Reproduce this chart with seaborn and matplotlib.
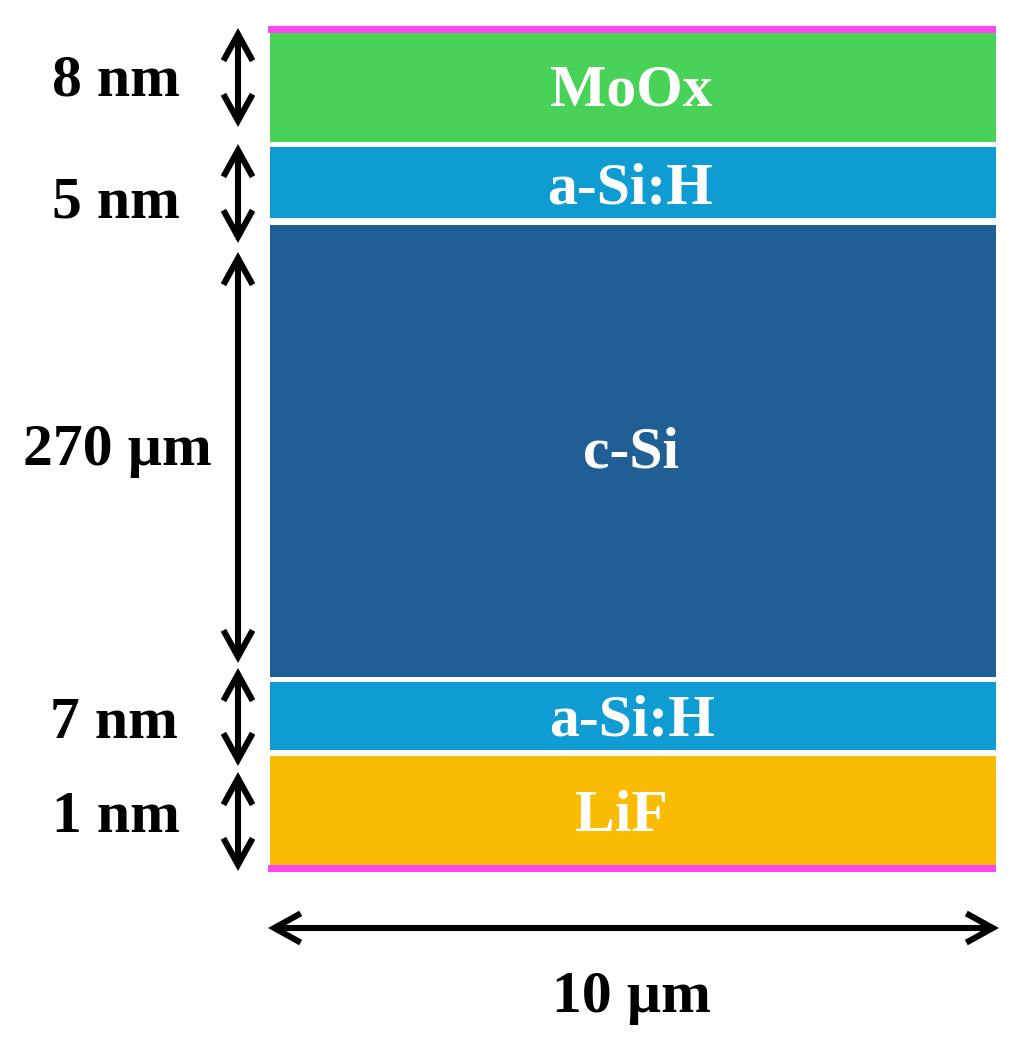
import matplotlib
matplotlib.use("Agg")
import matplotlib.pyplot as plt
import seaborn as sns

sns.set_theme(style="white")
plt.rcParams['font.family'] = ['Liberation Serif', 'DejaVu Serif']

# Drawn layer stack, top to bottom (picture units)
layer_names = ["Contact top", "MoOx", "a-Si:H", "c-Si", "a-Si:H", "LiF", "Contact bottom"]
layer_tops = [26, 33, 147, 225, 682, 756, 865]
layer_heights = [7, 109, 71, 452, 68, 109, 7]
layer_lefts = [268, 270, 270, 270, 270, 270, 268]
layer_rights = [996, 996, 996, 996, 996, 996, 996]
layer_colors = ["#FF45F0", "#48D258", "#0F9CD3", "#205E96", "#0F9CD3", "#FABC02", "#FF45F0"]

# Labels inside the layers
inner_labels = ["MoOx", "a-Si:H", "c-Si", "a-Si:H", "LiF"]
inner_x = [631, 630, 631, 632, 621]
inner_y = [105, 203, 467, 735, 831]

# Thickness annotations
thickness_labels = ["8 nm", "5 nm", "270 µm", "7 nm", "1 nm"]
thickness_x = [116, 116, 117, 114, 116]
thickness_y = [96, 217, 465, 738, 832]
arrow_starts = [28, 144, 252, 668, 772]
arrow_ends = [127, 243, 663, 766, 871]
arrow_x = 238

# Width annotation
width_label = "10 µm"
width_arrow = (268, 999)
width_arrow_y = 928
width_label_pos = (631, 1012)

W, H = 1019, 1044
fig = plt.figure(figsize=(W / 100, H / 100), dpi=100, facecolor="white")
ax = fig.add_axes([0, 0, 1, 1])

for left, right, top, height, color in zip(layer_lefts, layer_rights, layer_tops,
                                           layer_heights, layer_colors):
    sns.barplot(x=[(left + right) / 2], y=[height], bottom=top, width=right - left,
                native_scale=True, color=color, saturation=1, linewidth=0, ax=ax)

ax.set_xlim(0, W)
ax.set_ylim(H, 0)
ax.set_axis_off()

style = dict(arrowstyle="<->,head_length=1.9,head_width=1.05", color="black", lw=4.4,
             shrinkA=0, shrinkB=0, mutation_scale=10, joinstyle="miter", capstyle="butt")
for y0, y1 in zip(arrow_starts, arrow_ends):
    ax.annotate("", xy=(arrow_x, y0), xytext=(arrow_x, y1), arrowprops=style)
ax.annotate("", xy=(width_arrow[0], width_arrow_y), xytext=(width_arrow[1], width_arrow_y),
            arrowprops=style)

font = dict(fontsize=43, fontweight="bold", ha="center", va="baseline")
for t, x, y in zip(inner_labels, inner_x, inner_y):
    ax.text(x, y, t, color="white", **font)
for t, x, y in zip(thickness_labels, thickness_x, thickness_y):
    ax.text(x, y, t, color="black", **font)
ax.text(*width_label_pos, width_label, color="black", **font)

fig.savefig("out.png", dpi=100, facecolor="white")
